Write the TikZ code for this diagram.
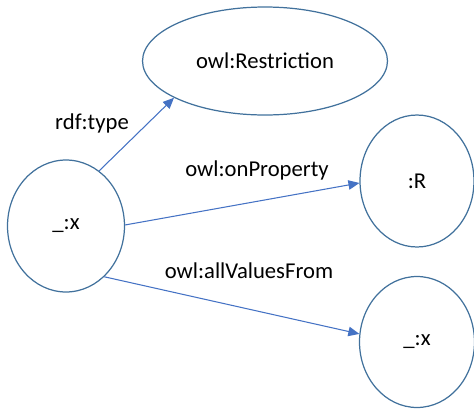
\documentclass[tikz,border=0pt]{standalone}
\usepackage{fontspec}
\setmainfont{Carlito}
\usetikzlibrary{shapes.geometric,arrows.meta}
\definecolor{owlblue}{RGB}{68,114,196}
\definecolor{owledge}{RGB}{65,113,156}
\tikzset{
    blob/.style={ellipse, draw=owledge, line width=0.7pt, inner sep=0pt},
    link/.style={draw=owlblue, line width=0.6pt, -{Triangle[length=0.22cm, width=0.19cm]}},
    lbl/.style={inner sep=0pt}
}

\begin{document}
\begin{tikzpicture}[x=0.02cm, y=-0.02cm, font=\fontsize{12.9}{15}\selectfont]
    \useasboundingbox (0,0) rectangle (474,410);
    % Draw the class and the three resources
    \node[blob, minimum width=4.9cm, minimum height=2.16cm] (restr) at (265,61) {owl:Restriction};
    \node[blob, minimum width=2.34cm, minimum height=2.64cm] (bx) at (66,226) {\_:x};
    \node[blob, minimum width=2.28cm, minimum height=2.64cm] (r) at (417,181) {:R};
    \node[blob, minimum width=2.3cm, minimum height=2.62cm] (bxb) at (417,342) {\_:x};
    % Draw the properties
    \draw[link] (bx.59) -- (restr.202);
    \draw[link] (bx.1) -- (r.182);
    \draw[link] (bx.-53) -- (bxb.172);
    % Add labels
    \node[lbl] (type) at (92,123) {rdf:type};
    \node[lbl] (onprop) at (257,170) {owl:onProperty};
    \node[lbl] (allval) at (249,271) {owl:allValuesFrom};
\end{tikzpicture}
\end{document}
